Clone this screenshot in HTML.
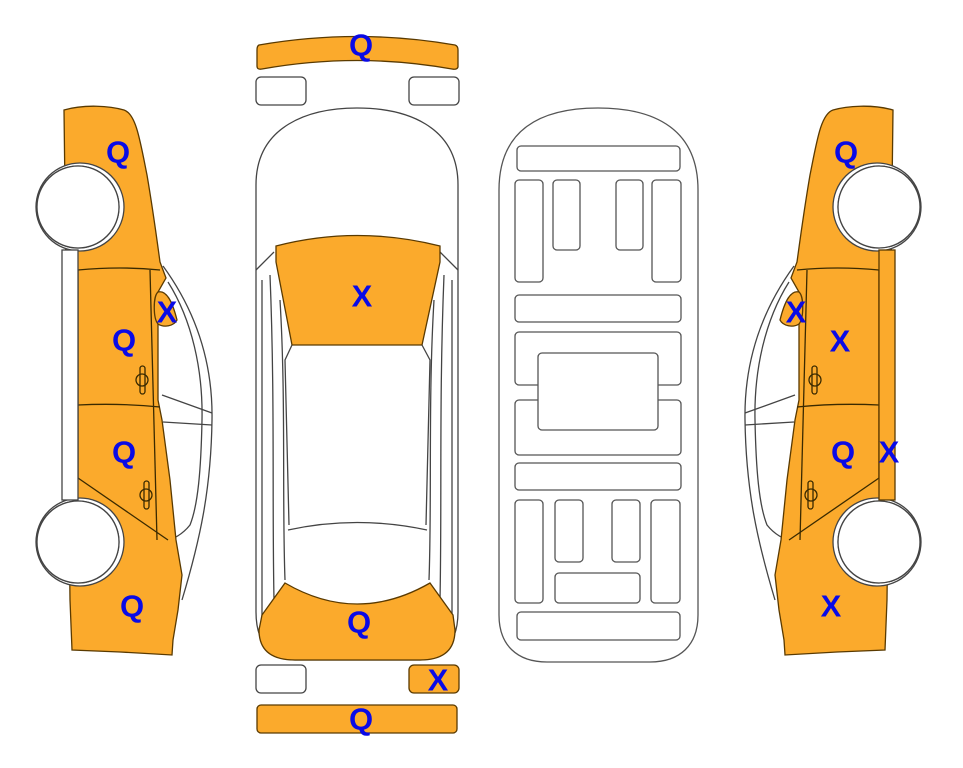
<!DOCTYPE html>
<html><head><meta charset="utf-8"><style>
html,body{margin:0;padding:0;background:#fff;width:963px;height:768px;overflow:hidden}
svg{display:block}
text{font-family:"Liberation Sans",Arial,sans-serif;font-weight:bold;font-size:31px;fill:#0a0ae6;text-anchor:middle;dominant-baseline:central}
</style></head><body>
<svg width="963" height="768" viewBox="0 0 963 768" xmlns="http://www.w3.org/2000/svg">
<defs>
<g id="side" stroke="#444" stroke-width="1.3" fill="none">
  <!-- greenhouse -->
  <path d="M163,266 C195,310 213,360 212,420 C211,490 200,540 182,600" />
  <path d="M168,282 C192,320 203,370 202,420 C201,470 198,505 190,525 C182,535 172,540 162,542" />
  <path d="M162,395 L212,413" />
  <path d="M163,422 L212,425" />
  <!-- orange body -->
  <path fill="#fbaa2c" stroke="#5a3a00" d="M64,110 C85,104 110,106 124,110 C136,114 140,140 147,175 C153,210 157,240 160,262 L166,278 L158,292 L158,400 L162,420 L170,480 L176,540 L182,575 L178,610 L173,640 L172,655 L120,652 L72,650 L70,600 L64,110 Z"/>
  <!-- window X -->
  <path fill="#fbaa2c" stroke="#5a3a00" d="M158,292 C166,290 172,300 177,320 C174,326 164,328 158,324 C153,318 153,296 158,292 Z"/>
  <!-- door lines -->
  <path d="M78,270 Q120,266 160,270" stroke="#3a2a00"/>
  <path d="M78,270 L78,478" stroke="#3a2a00"/>
  <path d="M78,405 Q120,403 160,407" stroke="#3a2a00"/>
  <path d="M78,478 L168,540" stroke="#3a2a00"/>
  <path d="M150,270 L157,540" stroke="#3a2a00"/>
  <!-- handles -->
  <rect x="140" y="366" width="5" height="28" rx="2.5" stroke="#3a2a00"/>
  <circle cx="142" cy="380" r="6" stroke="#3a2a00"/>
  <rect x="144" y="481" width="5" height="28" rx="2.5" stroke="#3a2a00"/>
  <circle cx="146" cy="495" r="6" stroke="#3a2a00"/>
  <!-- wheels -->
  <circle cx="80" cy="207" r="44" fill="#fff" stroke="#444"/>
  <circle cx="78" cy="207" r="41" fill="#fff" stroke="#444"/>
  <circle cx="80" cy="542" r="44" fill="#fff" stroke="#444"/>
  <circle cx="78" cy="542" r="41" fill="#fff" stroke="#444"/>
</g>
</defs>

<!-- left side -->
<use href="#side"/>
<rect x="62" y="250" width="16" height="250" fill="#fff" stroke="#444" stroke-width="1.3"/>
<circle cx="78" cy="207" r="41" fill="#fff" stroke="#444" stroke-width="1.3"/>
<circle cx="78" cy="542" r="41" fill="#fff" stroke="#444" stroke-width="1.3"/>

<!-- right side (mirror) -->
<g transform="matrix(-1,0,0,1,957,0)">
  <use href="#side"/>
  <rect x="62" y="250" width="16" height="250" fill="#fbaa2c" stroke="#5a3a00" stroke-width="1.3"/>
  <circle cx="78" cy="207" r="41" fill="#fff" stroke="#444" stroke-width="1.3"/>
  <circle cx="78" cy="542" r="41" fill="#fff" stroke="#444" stroke-width="1.3"/>
</g>

<!-- top view -->
<g stroke="#444" stroke-width="1.3" fill="none">
  <path fill="#fbaa2c" stroke="#5a3a00" d="M259,45 Q357,28 455,45 Q458,46 458,50 L458,67 Q457,70 452,69 Q357,52 262,69 Q257,70 257,66 L257,50 Q257,46 259,45 Z"/>
  <rect x="256" y="77" width="50" height="28" rx="5"/>
  <rect x="409" y="77" width="50" height="28" rx="5"/>
  <path d="M256,185 C256,125 310,108 357,108 C405,108 458,125 458,185 L458,612 C458,645 440,660 420,660 L295,660 C273,660 256,645 256,612 Z"/>
  <path d="M256,270 L274,252 M458,270 L440,252"/>
  <path d="M262,280 L262,630 M452,280 L452,630"/>
  <path d="M270,275 C275,400 272,500 274,600 M444,275 C439,400 442,500 440,600"/>
  <path d="M280,300 C286,400 282,500 285,580 M434,300 C428,400 432,500 429,580"/>
  <path fill="#fbaa2c" stroke="#5a3a00" d="M276,246 Q357,225 440,246 L440,262 L422,345 L292,345 L276,262 Z"/>
  <path d="M292,345 L285,360 L289,525 M422,345 L430,360 L426,525"/>
  <path d="M288,530 Q357,515 427,530"/>
  <path fill="#fbaa2c" stroke="#5a3a00" d="M262,615 L285,583 Q357,625 430,583 L453,615 L455,630 Q455,660 420,660 L295,660 Q259,660 259,630 Z"/>
  <rect x="256" y="665" width="50" height="28" rx="5"/>
  <rect x="409" y="665" width="50" height="28" rx="5" fill="#fbaa2c" stroke="#5a3a00"/>
  <rect x="257" y="705" width="200" height="28" rx="4" fill="#fbaa2c" stroke="#5a3a00"/>
</g>

<!-- underside -->
<g stroke="#555" stroke-width="1.3" fill="none">
  <path d="M499,190 C499,130 540,108 598,108 C656,108 698,130 698,190 L698,615 C698,645 680,662 650,662 L547,662 C517,662 499,645 499,615 Z"/>
  <rect x="517" y="146" width="163" height="25" rx="4"/>
  <rect x="515" y="180" width="28" height="102" rx="4"/>
  <rect x="553" y="180" width="27" height="70" rx="4"/>
  <rect x="616" y="180" width="27" height="70" rx="4"/>
  <rect x="652" y="180" width="29" height="102" rx="4"/>
  <rect x="515" y="295" width="166" height="27" rx="4"/>
  <rect x="515" y="332" width="166" height="53" rx="4"/>
  <rect x="515" y="400" width="166" height="55" rx="4"/>
  <rect x="538" y="353" width="120" height="77" rx="4" fill="#fff"/>
  <rect x="515" y="463" width="166" height="27" rx="4"/>
  <rect x="515" y="500" width="28" height="103" rx="4"/>
  <rect x="555" y="500" width="28" height="62" rx="4"/>
  <rect x="612" y="500" width="28" height="62" rx="4"/>
  <rect x="651" y="500" width="29" height="103" rx="4"/>
  <rect x="555" y="573" width="85" height="30" rx="4"/>
  <rect x="517" y="612" width="163" height="28" rx="4"/>
</g>

<!-- labels -->
<text x="118" y="152">Q</text>
<text x="167" y="312">X</text>
<text x="124" y="340">Q</text>
<text x="124" y="452">Q</text>
<text x="132" y="606">Q</text>
<text x="361" y="45">Q</text>
<text x="362" y="296">X</text>
<text x="359" y="622">Q</text>
<text x="438" y="680">X</text>
<text x="361" y="719">Q</text>
<text x="846" y="152">Q</text>
<text x="796" y="312">X</text>
<text x="840" y="341">X</text>
<text x="843" y="452">Q</text>
<text x="889" y="452">X</text>
<text x="831" y="606">X</text>
</svg>
</body></html>
